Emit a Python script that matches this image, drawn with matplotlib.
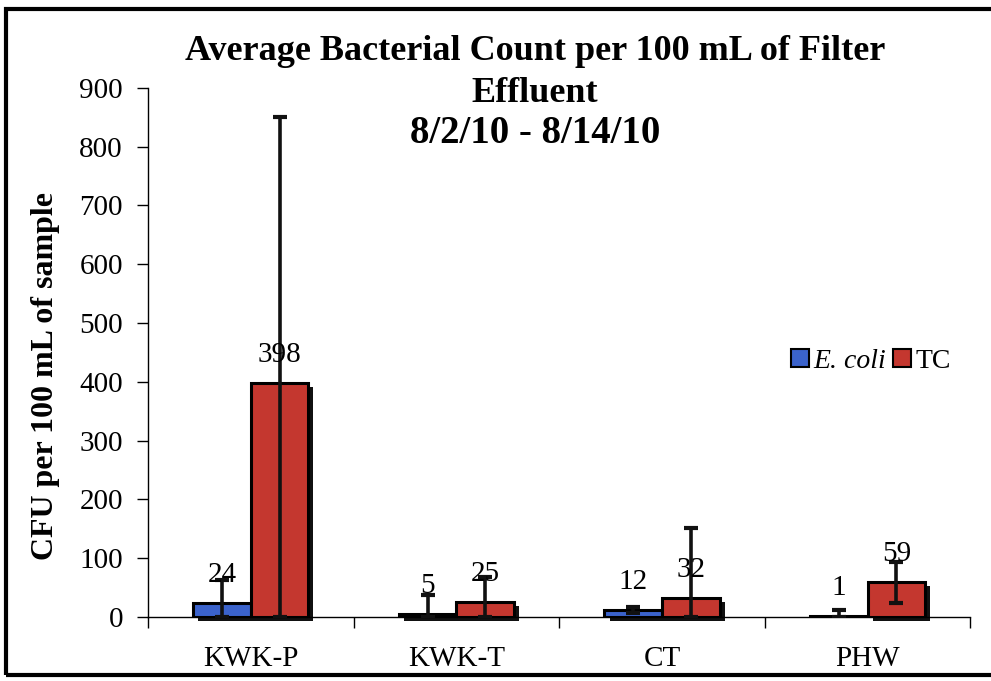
import matplotlib.pyplot as plt
import numpy as np
from matplotlib.patches import Rectangle

plt.rcParams["font.family"] = ["Liberation Serif", "DejaVu Serif"]

sites = ["KWK-P", "KWK-T", "CT", "PHW"]
ecoli = [24, 5, 12, 1]
ecoli_err = [39, 32, 5, 11]
tc = [398, 25, 32, 59]
tc_err = [452, 43, 119, 35]

blue = "#3b63cc"
red = "#c4372f"

fig = plt.figure(figsize=(9.91, 6.81), dpi=100)
ax = fig.add_axes([0.1493, 0.094, 0.830, 0.777])

x = np.arange(len(sites)) + 0.5
width = 0.28
shadow_dx = 0.025
shadow_dy = 7


def draw_series(pos, vals, errs, color):
    # dark drop shadow behind each bar
    for xi, v in zip(pos, vals):
        ax.add_patch(Rectangle((xi - width / 2 + shadow_dx, -shadow_dy), width, v,
                               facecolor="#111111", edgecolor="none",
                               zorder=1, clip_on=False))
    ax.bar(pos, vals, width, color=color, edgecolor="black", linewidth=2.2, zorder=2)
    lower = np.minimum(errs, vals)
    ax.errorbar(pos, vals, yerr=[lower, errs], fmt="none", ecolor="#111111",
                elinewidth=2.6, capsize=5, capthick=3, zorder=3)
    for xi, v in zip(pos, vals):
        ax.annotate(str(v), (xi, v), xytext=(0, 11), textcoords="offset points",
                    ha="center", va="bottom", fontsize=21, zorder=4)


draw_series(x - width / 2, ecoli, ecoli_err, blue)
draw_series(x + width / 2, tc, tc_err, red)

ax.set_xlim(0, len(sites))
ax.set_ylim(0, 900)
ax.set_yticks(np.arange(0, 901, 100))
ax.set_xticks(np.arange(len(sites) + 1))
ax.set_xticklabels([])
ax.set_xticks(x, minor=True)
ax.set_xticklabels(sites, minor=True, fontsize=21)
ax.tick_params(axis="x", which="minor", length=0, pad=21)
ax.tick_params(axis="x", which="major", length=8, width=1, direction="out")
ax.tick_params(axis="y", labelsize=21, length=8, width=1, direction="out", pad=10)

for s in ["top", "right"]:
    ax.spines[s].set_visible(False)
ax.spines["left"].set_linewidth(1)
ax.spines["bottom"].set_linewidth(1)

ax.set_ylabel("CFU per 100 mL of sample", fontsize=23, fontweight="bold")
ax.yaxis.set_label_coords(-0.107, 0.455)

tx = 0.540
fig.text(tx, 1 - 60 / 681, "Average Bacterial Count per 100 mL of Filter",
         ha="center", va="baseline", fontsize=26, fontweight="bold")
fig.text(tx, 1 - 102 / 681, "Effluent", ha="center", va="baseline",
         fontsize=26, fontweight="bold")
fig.text(tx, 1 - 143 / 681, "8/2/10 - 8/14/10", ha="center", va="baseline",
         fontsize=28, fontweight="bold")

handles = [Rectangle((0, 0), 1, 1, facecolor=blue, edgecolor="black", lw=1.5),
           Rectangle((0, 0), 1, 1, facecolor=red, edgecolor="black", lw=1.5)]
leg = ax.legend(handles, ["E. coli", "TC"], loc="center left",
                bbox_to_anchor=(0.782, 0.483), ncol=2, frameon=False, fontsize=20,
                handlelength=0.65, handleheight=0.65, handletextpad=0.15,
                columnspacing=0.25, borderaxespad=0, borderpad=0)
leg.get_texts()[0].set_fontstyle("italic")

# outer frame around the chart
fig.patches.append(Rectangle((6 / 991, 1 - 675 / 681), 1.0, (675 - 9) / 681,
                             transform=fig.transFigure, fill=False,
                             edgecolor="black", linewidth=3))

fig.savefig("out.png", dpi=100)
